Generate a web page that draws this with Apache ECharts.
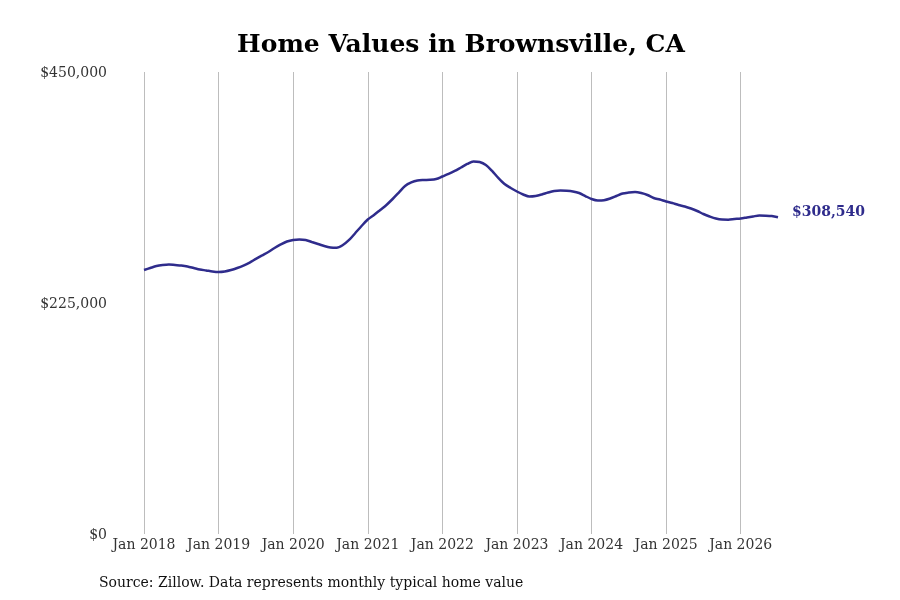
<!DOCTYPE html>
<html>
<head>
<meta charset="utf-8">
<script src="https://cdn.jsdelivr.net/npm/echarts@6/dist/echarts.min.js"></script>
<style>
  html, body { margin: 0; padding: 0; background: #fff; }
  #chart { width: 900px; height: 600px; }
</style>
</head>
<body>
<div id="chart"></div>
<script>
// months Jan 2018 .. Jul 2026
var years = [2018, 2019, 2020, 2021, 2022, 2023, 2024, 2025, 2026];
var monthNames = ['Jan', 'Feb', 'Mar', 'Apr', 'May', 'Jun', 'Jul', 'Aug', 'Sep', 'Oct', 'Nov', 'Dec'];

// typical home value, one per month
var homeValues = [
    257100, 259100, 261000, 262000, 262500, 262000, 261500, 260600, 259100, 257600, 256700, 255700,
    255200, 255700, 257100, 259100, 261500, 264400, 267900, 271300, 274700, 278600, 282000, 284900,
    286400, 286900, 286400, 284400, 282500, 280500, 279100, 278800, 281500, 286400, 293200, 300000,
    306300, 310700, 315600, 320500, 326300, 332600, 339000, 342400, 344300, 344800, 345000, 345800,
    348200, 350700, 353600, 357000, 360400, 362800, 362300, 359400, 353600, 346800, 340900, 337000,
    333600, 330700, 328700, 329200, 330700, 332600, 334100, 334600, 334300, 333600, 332100, 329200,
    326300, 324800, 325100, 326800, 329200, 331700, 332600, 333100, 332100, 330200, 327300, 325800,
    323900, 322400, 320500, 319000, 317000, 314600, 311700, 309300, 307300, 306300, 306200, 306800,
    307300, 308300, 309300, 310200, 310100, 309700, 308540
];

var yTicks = [0, 225000, 450000];
var lastLabel = '$308,540';

var months = [];
years.forEach(function (y) {
    monthNames.forEach(function (m) {
        if (months.length < homeValues.length) months.push(m + ' ' + y);
    });
});

var lineColor = '#2f2c8c';
var font = 'DejaVu Serif';

var chart = echarts.init(document.getElementById('chart'));
chart.setOption({
    animation: false,
    title: {
        text: 'Home Values in Brownsville, CA',
        left: 456,
        top: 28,
        textAlign: 'center',
        textStyle: {
            fontFamily: font,
            fontSize: 25,
            fontWeight: 'bold',
            color: '#000'
        }
    },
    graphic: [{
        type: 'text',
        left: 99,
        top: 576,
        style: {
            text: 'Source: Zillow. Data represents monthly typical home value',
            font: '14px "DejaVu Serif"',
            fill: '#111'
        }
    }],
    grid: {
        left: 144,
        right: 122,
        top: 72,
        bottom: 66
    },
    xAxis: {
        type: 'category',
        data: months,
        boundaryGap: false,
        axisLine: { show: false },
        axisTick: { show: false },
        axisLabel: {
            interval: 11,
            margin: 4,
            fontFamily: font,
            fontSize: 14,
            color: '#333'
        },
        splitLine: {
            show: true,
            interval: 11,
            lineStyle: { color: '#bdbdbd', width: 1 }
        }
    },
    yAxis: {
        type: 'value',
        min: yTicks[0],
        max: yTicks[yTicks.length - 1],
        interval: yTicks[1] - yTicks[0],
        axisLine: { show: false },
        axisTick: { show: false },
        splitLine: { show: false },
        axisLabel: {
            margin: 37,
            fontFamily: font,
            fontSize: 14,
            color: '#333',
            verticalAlign: 'top',
            padding: [-6, 0, 0, 0],
            formatter: function (v) {
                return '$' + v.toLocaleString('en-US');
            }
        }
    },
    series: [{
        type: 'line',
        data: homeValues,
        smooth: 0.3,
        showSymbol: false,
        lineStyle: { color: lineColor, width: 2.5 },
        endLabel: {
            show: true,
            formatter: lastLabel,
            distance: 14,
            offset: [0, -5],
            fontFamily: font,
            fontSize: 14,
            fontWeight: 'bold',
            color: lineColor
        }
    }]
});
</script>
</body>
</html>
